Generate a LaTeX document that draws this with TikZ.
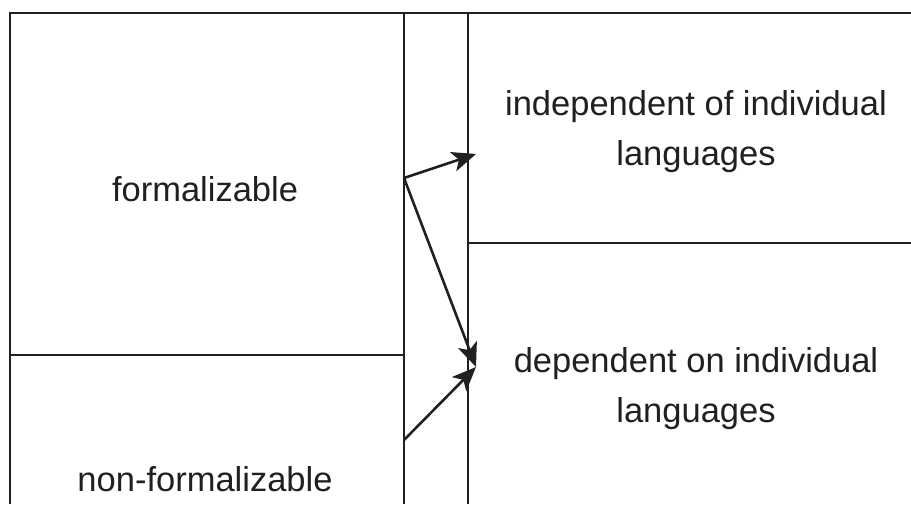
\documentclass[tikz,border=0pt]{standalone}
\usepackage{fontspec}
\setmainfont{Liberation Sans}
\usetikzlibrary{arrows.meta}
\definecolor{ink}{RGB}{35,31,32}

\begin{document}
\begin{tikzpicture}[x=1pt,y=-1pt,line width=2.6pt,draw=ink,
    cell/.style={font=\fontsize{34.5}{50}\selectfont,align=center,text=ink,inner sep=0pt},
    link/.style={-{Stealth[length=24pt,width=20pt,inset=6pt]}}]
    \useasboundingbox (0,0) rectangle (911,504);

    \draw (10,504) -- (10,13) -- (911,13);
    \foreach \x in {404,468}{
        \draw (\x,13) -- (\x,504);
    }
    \draw (10,355) -- (404,355);
    \draw (468,243) -- (911,243);

    \node[cell,anchor=base] (formal) at (205,201) {formalizable};
    \node[cell,anchor=base] (nonformal) at (205,491) {non-formalizable};
    \node[cell] (indep) at (696,132) {independent of individual\\languages};
    \node[cell] (dep) at (696,389) {dependent on individual\\languages};

    \coordinate (fromformal) at (404,178);
    \coordinate (fromnonformal) at (404,440);
    \coordinate (toindep) at (476,154);
    \coordinate (todep) at (476,367);

    \draw[link] (fromformal) -- (toindep);
    \draw[link] (fromformal) -- (todep);
    \draw[link] (fromnonformal) -- (todep);
\end{tikzpicture}
\end{document}
